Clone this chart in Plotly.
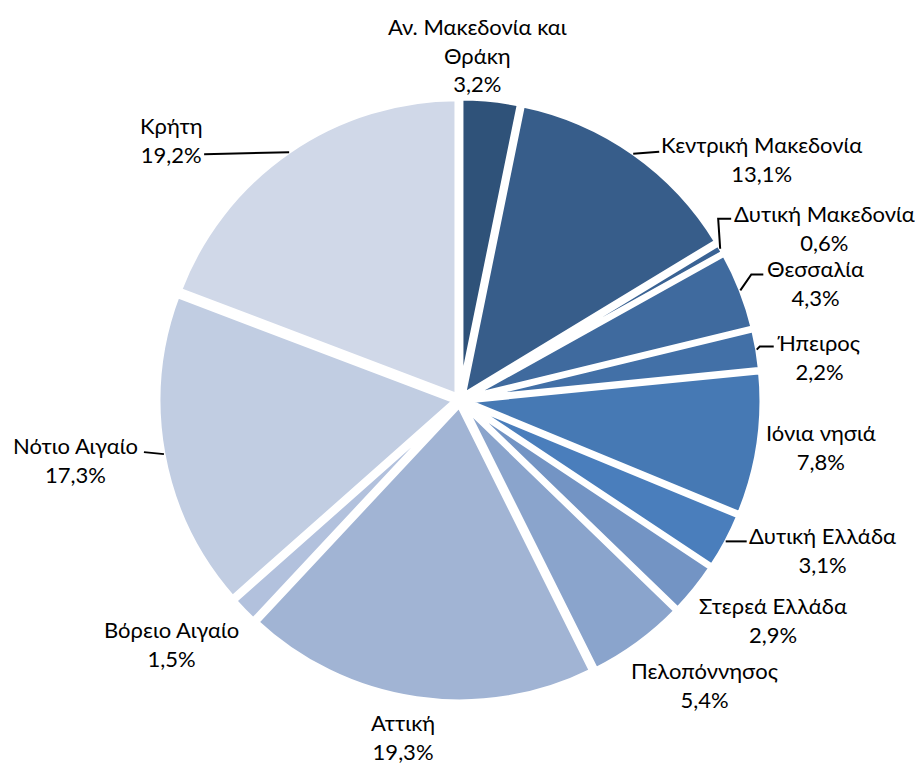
import math
import plotly.graph_objects as go

# ---- data ----
regions = ["Αν. Μακεδονία και Θράκη", "Κεντρική Μακεδονία", "Δυτική Μακεδονία", "Θεσσαλία",
           "Ήπειρος", "Ιόνια νησιά", "Δυτική Ελλάδα", "Στερεά Ελλάδα", "Πελοπόννησος",
           "Αττική", "Βόρειο Αιγαίο", "Νότιο Αιγαίο", "Κρήτη"]
display_labels = ["Αν. Μακεδονία και<br>Θράκη", "Κεντρική Μακεδονία", "Δυτική Μακεδονία", "Θεσσαλία",
                  "Ήπειρος", "Ιόνια νησιά", "Δυτική Ελλάδα", "Στερεά Ελλάδα", "Πελοπόννησος",
                  "Αττική", "Βόρειο Αιγαίο", "Νότιο Αιγαίο", "Κρήτη"]
shares = [3.2, 13.1, 0.6, 4.3, 2.2, 7.8, 3.1, 2.9, 5.4, 19.3, 1.5, 17.3, 19.2]

# ---- styles ----
colors = ["#2f5279", "#375d8a", "#3a6394", "#3f6a9e", "#4270a7", "#4679b4", "#4a7ebc",
          "#7394c4", "#8aa4cc", "#a1b4d4", "#b2c1dd", "#c1cde2", "#d0d8e8"]
# label offsets (px) from the outer mid-point of each slice
label_offsets = [(-13, -46), (128, 5), (104, -21), (75, -7), (62, 7), (63, 3), (97, 9),
                 (79, 31), (67, 42), (-14, 39), (-73, 34), (-88, 6), (-118, -12)]
# leader-line bend points (px offsets from slice outer mid-point); None = no leader
leaders = [None,
           [(26, -2)],
           [(-2, -30), (11, -30)],
           [(11, -16), (23, -16)],
           [(3, -3), (17, -3)],
           None,
           [(21, 0)],
           None, None, None, None,
           [(-20, -2)],
           [(-85, 2)]]

W, H = 923, 765
OFF = 8                      # page offset of the plot div
CX, CY = 460, 400            # pie centre (screen px)
R, pull = 298, 0.015
half = R * (1 + pull)
R_edge = half - 1.5


def to_paper(sx, sy):
    return (sx - OFF) / W, 1 - (sy - OFF) / H


px_cx, px_cy = CX - OFF, CY - OFF

fig = go.Figure(go.Pie(
    labels=regions,
    values=shares,
    textinfo="none",
    marker=dict(colors=colors, line=dict(color="#ffffff", width=6)),
    sort=False,
    direction="clockwise",
    rotation=0,
    pull=pull,
    showlegend=False,
    hoverinfo="label+percent",
    domain=dict(x=[(px_cx - half) / W, (px_cx + half) / W],
                y=[1 - (px_cy + half) / H, 1 - (px_cy - half) / H]),
))

total = sum(shares)
cum = 0.0
annotations, shapes = [], []
for i, v in enumerate(shares):
    mid = (cum + v / 2) / total * 2 * math.pi
    cum += v
    ex = CX + R_edge * math.sin(mid)
    ey = CY - R_edge * math.cos(mid)
    dx, dy = label_offsets[i]
    lx, ly = to_paper(ex + dx, ey + dy)
    pct = f"{v:.1f}".replace(".", ",") + "%"
    txt = f"{display_labels[i]}<br>{pct}"
    annotations.append(dict(x=lx, y=ly, xref="paper", yref="paper", text=txt,
                            showarrow=False, xanchor="center", yanchor="middle",
                            align="center",
                            font=dict(family="Lato, Open Sans, sans-serif", size=22,
                                      color="#000000")))
    if leaders[i]:
        pts = [(ex, ey)] + [(ex + a, ey + b) for a, b in leaders[i]]
        path = ""
        for k, (sx, sy) in enumerate(pts):
            X, Y = to_paper(sx, sy)
            path += ("M" if k == 0 else " L") + f" {X:.5f},{Y:.5f}"
        shapes.append(dict(type="path", path=path, xref="paper", yref="paper",
                           line=dict(color="#000000", width=2)))

fig.update_layout(
    width=W, height=H,
    margin=dict(l=0, r=0, t=0, b=0),
    paper_bgcolor="#ffffff",
    annotations=annotations,
    shapes=shapes,
)
fig.write_html("out.html")
